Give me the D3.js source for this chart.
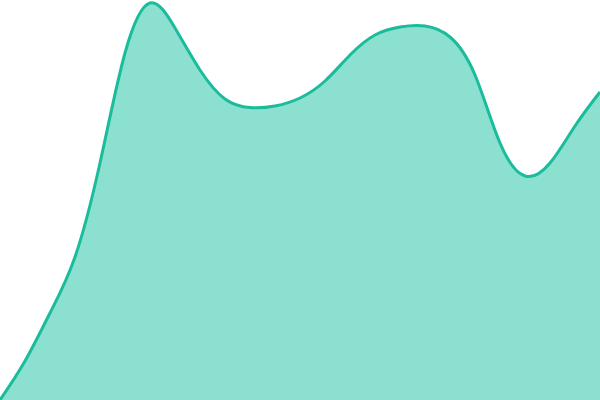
<!DOCTYPE html>
<html>
<head>
<meta charset="utf-8">
<script src="https://cdn.jsdelivr.net/npm/d3@7"></script>
<style>
html,body{margin:0;padding:0;background:#fff;overflow:hidden;}
svg{display:block;}
</style>
</head>
<body>
<svg id="chart" width="600" height="400"></svg>
<script>
const categories = [0,1,2,3,4,5,6,7,8,9,10,11,12,13,14,15,16,17,18,19,20,21,22,23,24];
const values = [0, 9.75, 21.75, 35.75, 59.25, 86.75, 99.25, 93, 82.5, 75.25, 73.1, 73.5, 75.5, 79.75, 86.25, 91.25, 93.25, 93.5, 90.75, 81.25, 64.25, 56, 59.25, 68.5, 77];

const width = 600, height = 400;
const svg = d3.select("#chart");
const x = d3.scaleLinear().domain(d3.extent(categories)).range([0, width]);
const y = d3.scaleLinear().domain([0, 100]).range([height, 0]);
const data = categories.map((c,i)=>({c, v: values[i]}));

const curve = d3.curveNatural;
const area = d3.area().x(d=>x(d.c)).y0(y(0)).y1(d=>y(d.v)).curve(curve);
const line = d3.line().x(d=>x(d.c)).y(d=>y(d.v)).curve(curve);

svg.append("path").datum(data).attr("d", area).attr("fill", "#8be0cf");
svg.append("path").datum(data).attr("d", line).attr("fill", "none").attr("stroke", "#1abc9c").attr("stroke-width", 3);
</script>
</body>
</html>
